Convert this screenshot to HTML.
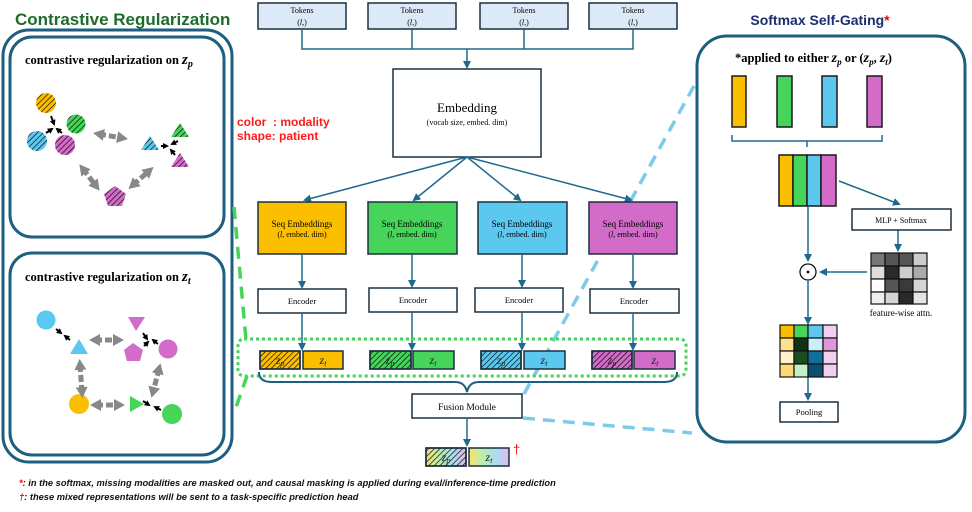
<!DOCTYPE html>
<html><head><meta charset="utf-8"><style>
html,body{margin:0;padding:0;background:#fff;}
svg{display:block;}
.s{font-family:"Liberation Serif",serif;}
.a{font-family:"Liberation Sans",sans-serif;}
</style></head><body>
<svg width="972" height="512" viewBox="0 0 972 512" xmlns="http://www.w3.org/2000/svg">
<defs>
<pattern id="h" patternUnits="userSpaceOnUse" width="4" height="4" patternTransform="rotate(45)"><rect width="4" height="4" fill="none"/><line x1="0" y1="0" x2="0" y2="4" stroke="#000" stroke-width="1.3"/></pattern>
<marker id="ar" markerWidth="8" markerHeight="8" refX="6" refY="4" orient="auto" markerUnits="userSpaceOnUse"><path d="M0,0 L8,4 L0,8 z" fill="#1e6a8e"/></marker>
<marker id="ga" markerWidth="11" markerHeight="12" refX="5" refY="6" orient="auto-start-reverse" markerUnits="userSpaceOnUse"><path d="M0,0 L11,6 L0,12 z" fill="#888"/></marker>
<marker id="ba" markerWidth="6" markerHeight="6" refX="4" refY="3" orient="auto" markerUnits="userSpaceOnUse"><path d="M0,0 L6,3 L0,6 z" fill="#000"/></marker>
<linearGradient id="rb" x1="0" x2="1"><stop offset="0" stop-color="#fbe070"/><stop offset="0.35" stop-color="#b8efb0"/><stop offset="0.7" stop-color="#a8dcf5"/><stop offset="1" stop-color="#e8b8e8"/></linearGradient>
</defs>

<!-- Left panel -->
<text x="15" y="25" class="a" font-weight="bold" font-size="17" fill="#1f6b2c">Contrastive Regularization</text>
<rect x="3" y="30" width="229" height="432" rx="26" fill="none" stroke="#1e5f80" stroke-width="3"/>
<rect x="10" y="37" width="214" height="200" rx="22" fill="none" stroke="#1e5f80" stroke-width="3"/>
<rect x="10" y="253" width="214" height="202" rx="22" fill="none" stroke="#1e5f80" stroke-width="3"/>
<text x="25" y="64" class="s" font-weight="bold" font-size="12.5">contrastive regularization on <tspan font-style="italic" font-size="15">z</tspan><tspan font-style="italic" font-size="10" dy="3">p</tspan></text>
<text x="25" y="281" class="s" font-weight="bold" font-size="12.5">contrastive regularization on <tspan font-style="italic" font-size="15">z</tspan><tspan font-style="italic" font-size="10" dy="3">t</tspan></text>

<!-- top panel shapes -->
<g>
<circle cx="46" cy="103" r="10" fill="#fbbf00"/><circle cx="46" cy="103" r="10" fill="url(#h)"/>
<circle cx="76" cy="124" r="9.5" fill="#46d45a"/><circle cx="76" cy="124" r="9.5" fill="url(#h)"/>
<circle cx="37" cy="141" r="10" fill="#5bc8f0"/><circle cx="37" cy="141" r="10" fill="url(#h)"/>
<circle cx="65" cy="145" r="10" fill="#d36bc8"/><circle cx="65" cy="145" r="10" fill="url(#h)"/>
<line x1="51" y1="116" x2="54" y2="124" stroke="#000" stroke-width="2" marker-end="url(#ba)"/>
<line x1="46" y1="133" x2="52" y2="129" stroke="#000" stroke-width="2" marker-end="url(#ba)"/>
<line x1="62" y1="133" x2="57" y2="129" stroke="#000" stroke-width="2" marker-end="url(#ba)"/>
<path d="M115,186 L126,194 L122,206 L108,206 L104,194 z" fill="#d36bc8"/><path d="M115,186 L126,194 L122,206 L108,206 L104,194 z" fill="url(#h)"/>
<path d="M150,136 L159,150 L141,150 z" fill="#5bc8f0"/><path d="M150,136 L159,150 L141,150 z" fill="url(#h)"/>
<path d="M180,123 L189,137 L171,137 z" fill="#46d45a"/><path d="M180,123 L189,137 L171,137 z" fill="url(#h)"/>
<path d="M180,153 L189,167 L171,167 z" fill="#d36bc8"/><path d="M180,153 L189,167 L171,167 z" fill="url(#h)"/>
<line x1="161" y1="146" x2="167" y2="146" stroke="#000" stroke-width="2" marker-end="url(#ba)"/>
<line x1="178" y1="141" x2="172" y2="144" stroke="#000" stroke-width="2" marker-end="url(#ba)"/>
<line x1="175" y1="155" x2="171" y2="150" stroke="#000" stroke-width="2" marker-end="url(#ba)"/>
<g stroke="#888" stroke-width="5" stroke-dasharray="7,3" fill="none" marker-start="url(#ga)" marker-end="url(#ga)">
<line x1="99" y1="134" x2="122" y2="138"/>
<line x1="83" y1="169" x2="96" y2="186"/>
<line x1="133" y1="185" x2="149" y2="171"/>
</g>
</g>

<!-- bottom panel shapes -->
<g>
<circle cx="46" cy="320" r="9.5" fill="#5bc8f0"/>
<path d="M79,339 L88,354 L70,354 z" fill="#5bc8f0"/>
<path d="M136,331 L128,317 L145,317 z" fill="#d36bc8"/>
<path d="M133,343 L143,350 L140,361 L127,361 L124,350 z" fill="#d36bc8"/>
<circle cx="168" cy="349" r="9.5" fill="#d36bc8"/>
<path d="M144,404 L130,412 L130,396 z" fill="#46d45a"/>
<circle cx="79" cy="404" r="10" fill="#fbbf00"/>
<circle cx="172" cy="414" r="10" fill="#46d45a"/>
<g stroke="#000" stroke-width="2">
<line x1="56" y1="329" x2="61" y2="333" marker-end="url(#ba)"/>
<line x1="70" y1="340" x2="65" y2="336" marker-end="url(#ba)"/>
<line x1="143" y1="333" x2="147" y2="339" marker-end="url(#ba)"/>
<line x1="144" y1="346" x2="148" y2="342" marker-end="url(#ba)"/>
<line x1="158" y1="344" x2="153" y2="340" marker-end="url(#ba)"/>
<line x1="143" y1="401" x2="149" y2="405" marker-end="url(#ba)"/>
<line x1="161" y1="410" x2="155" y2="407" marker-end="url(#ba)"/>
</g>
<g stroke="#888" stroke-width="5" stroke-dasharray="7,3" fill="none" marker-start="url(#ga)" marker-end="url(#ga)">
<line x1="95" y1="340" x2="118" y2="340"/>
<line x1="80" y1="365" x2="82" y2="392"/>
<line x1="96" y1="405" x2="119" y2="405"/>
<line x1="159" y1="369" x2="153" y2="392"/>
</g>
</g>

<text x="237" y="126" class="a" font-weight="bold" font-size="12" fill="#ff1a1a" xml:space="preserve">color  : modality</text>
<text x="237" y="140" class="a" font-weight="bold" font-size="12" fill="#ff1a1a">shape: patient</text>

<!-- dashed connectors -->
<g stroke="#46d45a" stroke-width="3.5" stroke-dasharray="12,8" fill="none">
<line x1="234" y1="207" x2="246" y2="340"/>
<line x1="247" y1="376" x2="234" y2="413"/>
</g>
<g stroke="#7ccbeb" stroke-width="3.5" stroke-dasharray="12,8" fill="none">
<line x1="524" y1="394" x2="694" y2="86"/>
<line x1="523" y1="418" x2="692" y2="433"/>
</g>

<!-- Tokens -->
<g font-size="8" class="s" text-anchor="middle">
<rect x="258" y="3" width="88" height="26" fill="#dce9f6" stroke="#1a3040" stroke-width="1.5"/>
<rect x="368" y="3" width="88" height="26" fill="#dce9f6" stroke="#1a3040" stroke-width="1.5"/>
<rect x="480" y="3" width="88" height="26" fill="#dce9f6" stroke="#1a3040" stroke-width="1.5"/>
<rect x="589" y="3" width="88" height="26" fill="#dce9f6" stroke="#1a3040" stroke-width="1.5"/>
<text x="302" y="13">Tokens</text><text x="302" y="25">(<tspan font-style="italic">l</tspan>,)</text>
<text x="412" y="13">Tokens</text><text x="412" y="25">(<tspan font-style="italic">l</tspan>,)</text>
<text x="524" y="13">Tokens</text><text x="524" y="25">(<tspan font-style="italic">l</tspan>,)</text>
<text x="633" y="13">Tokens</text><text x="633" y="25">(<tspan font-style="italic">l</tspan>,)</text>
</g>
<g stroke="#1e6a8e" stroke-width="1.5" fill="none">
<path d="M302,29 V49 H633 V29 M412,29 V49 M524,29 V49"/>
<line x1="467" y1="49" x2="467" y2="67" marker-end="url(#ar)"/>
</g>
<rect x="393" y="69" width="148" height="88" fill="#fff" stroke="#1a3040" stroke-width="1.5"/>
<text x="467" y="112" class="s" font-size="13" text-anchor="middle">Embedding</text>
<text x="467" y="125" class="s" font-size="8" text-anchor="middle">(vocab size, embed. dim)</text>
<g stroke="#1e6a8e" stroke-width="1.5" fill="none">
<line x1="467" y1="157" x2="305" y2="200" marker-end="url(#ar)"/>
<line x1="467" y1="157" x2="414" y2="200" marker-end="url(#ar)"/>
<line x1="467" y1="157" x2="520" y2="200" marker-end="url(#ar)"/>
<line x1="467" y1="157" x2="631" y2="200" marker-end="url(#ar)"/>
</g>

<!-- Seq embeddings -->
<g class="s" font-size="9" text-anchor="middle">
<rect x="258" y="202" width="88" height="52" fill="#fbbf00" stroke="#1a3040" stroke-width="1.5"/>
<rect x="368" y="202" width="89" height="52" fill="#46d45a" stroke="#1a3040" stroke-width="1.5"/>
<rect x="478" y="202" width="89" height="52" fill="#5bc8f0" stroke="#1a3040" stroke-width="1.5"/>
<rect x="589" y="202" width="88" height="52" fill="#d36bc8" stroke="#1a3040" stroke-width="1.5"/>
<text x="302" y="227">Seq Embeddings</text><text x="302" y="237" font-size="8">(<tspan font-style="italic">l</tspan>, embed. dim)</text>
<text x="412" y="227">Seq Embeddings</text><text x="412" y="237" font-size="8">(<tspan font-style="italic">l</tspan>, embed. dim)</text>
<text x="522" y="227">Seq Embeddings</text><text x="522" y="237" font-size="8">(<tspan font-style="italic">l</tspan>, embed. dim)</text>
<text x="633" y="227">Seq Embeddings</text><text x="633" y="237" font-size="8">(<tspan font-style="italic">l</tspan>, embed. dim)</text>
</g>
<g stroke="#1e6a8e" stroke-width="1.5">
<line x1="302" y1="254" x2="302" y2="287" marker-end="url(#ar)"/>
<line x1="412" y1="254" x2="412" y2="286" marker-end="url(#ar)"/>
<line x1="522" y1="254" x2="522" y2="286" marker-end="url(#ar)"/>
<line x1="633" y1="254" x2="633" y2="287" marker-end="url(#ar)"/>
</g>
<g class="s" font-size="8.5" text-anchor="middle">
<rect x="258" y="289" width="88" height="24" fill="#fff" stroke="#1a3040" stroke-width="1.5"/>
<rect x="369" y="288" width="88" height="24" fill="#fff" stroke="#1a3040" stroke-width="1.5"/>
<rect x="475" y="288" width="88" height="24" fill="#fff" stroke="#1a3040" stroke-width="1.5"/>
<rect x="590" y="289" width="89" height="24" fill="#fff" stroke="#1a3040" stroke-width="1.5"/>
<text x="302" y="304">Encoder</text><text x="413" y="303">Encoder</text><text x="519" y="303">Encoder</text><text x="634" y="304">Encoder</text>
</g>
<g stroke="#1e6a8e" stroke-width="1.5">
<line x1="302" y1="313" x2="302" y2="349" marker-end="url(#ar)"/>
<line x1="412" y1="312" x2="412" y2="349" marker-end="url(#ar)"/>
<line x1="522" y1="312" x2="522" y2="349" marker-end="url(#ar)"/>
<line x1="633" y1="313" x2="633" y2="349" marker-end="url(#ar)"/>
</g>
<rect x="238" y="339" width="448" height="37" rx="6" fill="none" stroke="#46d45a" stroke-width="3" stroke-dasharray="3,3"/>

<!-- z boxes -->
<g stroke="#1a3040" stroke-width="1.5">
<rect x="260" y="351" width="40" height="18" fill="#fbbf00"/><rect x="260" y="351" width="40" height="18" fill="url(#h)"/>
<rect x="303" y="351" width="40" height="18" fill="#fbbf00"/>
<rect x="370" y="351" width="41" height="18" fill="#46d45a"/><rect x="370" y="351" width="41" height="18" fill="url(#h)"/>
<rect x="413" y="351" width="41" height="18" fill="#46d45a"/>
<rect x="481" y="351" width="40" height="18" fill="#5bc8f0"/><rect x="481" y="351" width="40" height="18" fill="url(#h)"/>
<rect x="524" y="351" width="41" height="18" fill="#5bc8f0"/>
<rect x="592" y="351" width="40" height="18" fill="#d36bc8"/><rect x="592" y="351" width="40" height="18" fill="url(#h)"/>
<rect x="634" y="351" width="41" height="18" fill="#d36bc8"/>
<rect x="426" y="448" width="40" height="18" fill="url(#rb)"/><rect x="426" y="448" width="40" height="18" fill="url(#h)"/>
<rect x="469" y="448" width="40" height="18" fill="url(#rb)"/>
</g>
<g class="s" font-style="italic" font-size="12" text-anchor="middle" fill="#222">
<text x="280" y="364">z<tspan font-size="8" dy="2">p</tspan></text><text x="323" y="364">z<tspan font-size="8" dy="2">t</tspan></text>
<text x="390" y="364">z<tspan font-size="8" dy="2">p</tspan></text><text x="433" y="364">z<tspan font-size="8" dy="2">t</tspan></text>
<text x="501" y="364">z<tspan font-size="8" dy="2">p</tspan></text><text x="544" y="364">z<tspan font-size="8" dy="2">t</tspan></text>
<text x="612" y="364">z<tspan font-size="8" dy="2">p</tspan></text><text x="655" y="364">z<tspan font-size="8" dy="2">t</tspan></text>
<text x="446" y="461">z<tspan font-size="8" dy="2">p</tspan></text><text x="489" y="461">z<tspan font-size="8" dy="2">t</tspan></text>
</g>
<text x="513" y="454" font-size="13" fill="#e00" class="a">†</text>

<!-- brace -->
<path d="M259,372 Q259,382 272,382 L455,382 Q465,382 467,392 Q469,382 479,382 L664,382 Q677,382 677,372" fill="none" stroke="#1e5f80" stroke-width="2"/>
<rect x="412" y="394" width="110" height="24" fill="#fff" stroke="#1a3040" stroke-width="1.5"/>
<text x="467" y="410" class="s" font-size="9.5" text-anchor="middle">Fusion Module</text>
<line x1="467" y1="418" x2="467" y2="445" stroke="#1e6a8e" stroke-width="1.5" marker-end="url(#ar)"/>

<!-- Right panel -->
<text x="820" y="25" class="a" font-weight="bold" font-size="14" text-anchor="middle" fill="#1a2f6e">Softmax Self-Gating<tspan fill="#e00">*</tspan></text>
<rect x="697" y="36" width="268" height="406" rx="30" fill="none" stroke="#1e5f80" stroke-width="3"/>
<text x="735" y="62" class="s" font-weight="bold" font-size="12.5">*applied to either <tspan font-style="italic" font-size="14">z</tspan><tspan font-style="italic" font-size="9" dy="3">p</tspan><tspan dy="-3"> or (</tspan><tspan font-style="italic" font-size="14">z</tspan><tspan font-style="italic" font-size="9" dy="3">p</tspan><tspan dy="-3">, </tspan><tspan font-style="italic" font-size="14">z</tspan><tspan font-style="italic" font-size="9" dy="3">t</tspan><tspan dy="-3">)</tspan></text>
<g stroke="#1a1a1a" stroke-width="1.5">
<rect x="732" y="76" width="14" height="51" fill="#fbbf00"/>
<rect x="777" y="76" width="15" height="51" fill="#46d45a"/>
<rect x="822" y="76" width="15" height="51" fill="#5bc8f0"/>
<rect x="867" y="76" width="15" height="51" fill="#d36bc8"/>
<rect x="779" y="155" width="14" height="51" fill="#fbbf00"/>
<rect x="793" y="155" width="14" height="51" fill="#46d45a"/>
<rect x="807" y="155" width="14" height="51" fill="#5bc8f0"/>
<rect x="821" y="155" width="15" height="51" fill="#d36bc8"/>
</g>
<path d="M732,135 V141 H882 V135 M807,141 V147" fill="none" stroke="#1e6a8e" stroke-width="1.5"/>
<g stroke="#1e6a8e" stroke-width="1.5">
<line x1="839" y1="181" x2="899" y2="204" marker-end="url(#ar)"/>
<line x1="898" y1="230" x2="898" y2="250" marker-end="url(#ar)"/>
<line x1="808" y1="206" x2="808" y2="260" marker-end="url(#ar)"/>
<line x1="867" y1="272" x2="821" y2="272" marker-end="url(#ar)"/>
<line x1="808" y1="281" x2="808" y2="323" marker-end="url(#ar)"/>
<line x1="808" y1="377" x2="808" y2="399" marker-end="url(#ar)"/>
</g>
<rect x="852" y="209" width="99" height="21" fill="#fff" stroke="#1a3040" stroke-width="1.5"/>
<text x="901" y="223" class="s" font-size="8" text-anchor="middle">MLP + Softmax</text>
<circle cx="808" cy="272" r="8" fill="#fff" stroke="#111" stroke-width="1.3"/>
<circle cx="808" cy="272" r="1.4" fill="#111"/>
<g stroke="#111" stroke-width="1.2">
<rect x="871" y="253" width="14" height="13" fill="#777"/><rect x="885" y="253" width="14" height="13" fill="#555"/><rect x="899" y="253" width="14" height="13" fill="#555"/><rect x="913" y="253" width="14" height="13" fill="#ccc"/>
<rect x="871" y="266" width="14" height="13" fill="#ddd"/><rect x="885" y="266" width="14" height="13" fill="#2a2a2a"/><rect x="899" y="266" width="14" height="13" fill="#ccc"/><rect x="913" y="266" width="14" height="13" fill="#aaa"/>
<rect x="871" y="279" width="14" height="13" fill="#fff"/><rect x="885" y="279" width="14" height="13" fill="#555"/><rect x="899" y="279" width="14" height="13" fill="#3a3a3a"/><rect x="913" y="279" width="14" height="13" fill="#d5d5d5"/>
<rect x="871" y="292" width="14" height="12" fill="#eee"/><rect x="885" y="292" width="14" height="12" fill="#d5d5d5"/><rect x="899" y="292" width="14" height="12" fill="#2a2a2a"/><rect x="913" y="292" width="14" height="12" fill="#e5e5e5"/>
</g>
<text x="901" y="316" class="s" font-size="9" text-anchor="middle">feature-wise attn.</text>
<g stroke="#111" stroke-width="1.2">
<rect x="780" y="325" width="14" height="13" fill="#fbbf00"/><rect x="794" y="325" width="14" height="13" fill="#46d45a"/><rect x="808" y="325" width="15" height="13" fill="#5bc8f0"/><rect x="823" y="325" width="14" height="13" fill="#f0d0ee"/>
<rect x="780" y="338" width="14" height="13" fill="#ffe090"/><rect x="794" y="338" width="14" height="13" fill="#113314"/><rect x="808" y="338" width="15" height="13" fill="#c8eefa"/><rect x="823" y="338" width="14" height="13" fill="#e096dc"/>
<rect x="780" y="351" width="14" height="13" fill="#fff2cc"/><rect x="794" y="351" width="14" height="13" fill="#1a4d1e"/><rect x="808" y="351" width="15" height="13" fill="#10709a"/><rect x="823" y="351" width="14" height="13" fill="#f0d0ee"/>
<rect x="780" y="364" width="14" height="13" fill="#ffd878"/><rect x="794" y="364" width="14" height="13" fill="#c6efc8"/><rect x="808" y="364" width="15" height="13" fill="#0a5070"/><rect x="823" y="364" width="14" height="13" fill="#f0d0ee"/>
</g>
<rect x="780" y="402" width="58" height="20" fill="#fff" stroke="#1a3040" stroke-width="1.5"/>
<text x="809" y="415" class="s" font-size="8.5" text-anchor="middle">Pooling</text>

<!-- footnotes -->
<g class="a" font-style="italic" font-weight="bold" font-size="9.3" fill="#111">
<text x="19" y="486"><tspan fill="#e00">*</tspan>: in the softmax, missing modalities are masked out, and causal masking is applied during eval/inference-time prediction</text>
<text x="19" y="500"><tspan fill="#e00">†</tspan>: these mixed representations will be sent to a task-specific prediction head</text>
</g>
</svg>
</body></html>
